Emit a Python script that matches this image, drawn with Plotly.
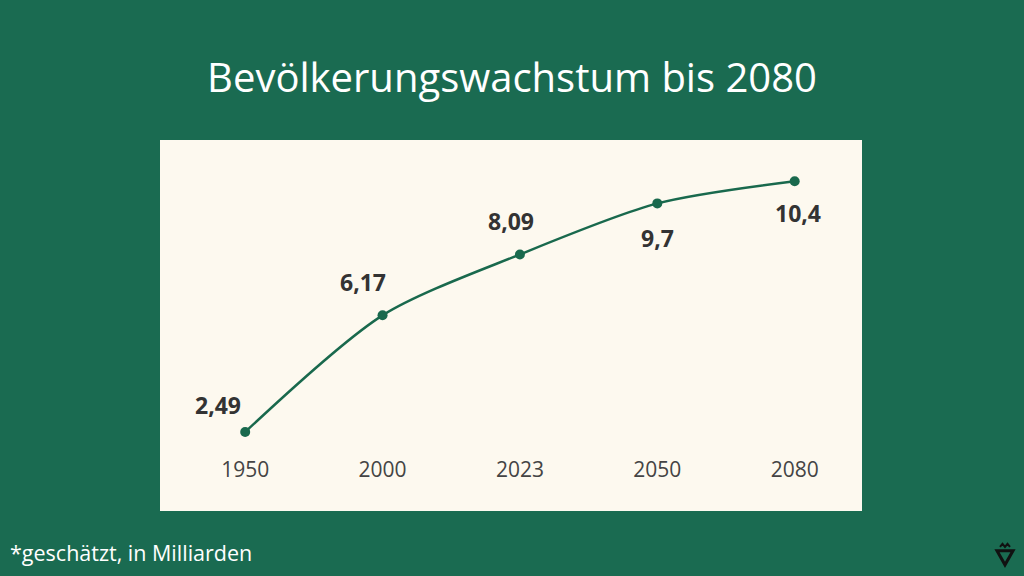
import plotly.graph_objects as go

years = ["1950", "2000", "2023", "2050", "2080"]
population = [2.49, 6.17, 8.09, 9.7, 10.4]
value_labels = ["2,49", "6,17", "8,09", "9,7", "10,4"]

GREEN = "#1a6b51"
LINE = "#19694d"
CREAM = "#fdf9ef"

fig = go.Figure()
fig.add_trace(
    go.Scatter(
        x=years, y=population, mode="lines+markers",
        line=dict(color=LINE, width=2.5, shape="spline", smoothing=0.8),
        marker=dict(color=LINE, size=10),
        hoverinfo="skip",
    )
)

# label offsets (px): first three above-left, last two below
shifts = [(-27, 27), (-20, 33), (-9, 33), (0, -35), (3, -32)]
for i, (val, lab, (dx, dy)) in enumerate(zip(population, value_labels, shifts)):
    fig.add_annotation(
        x=i, y=val, text=f"<b>{lab}</b>", showarrow=False,
        xshift=dx, yshift=dy,
        font=dict(family="Open Sans", size=23, color="#333333"),
    )

# cream panel extending below the plot area to hold the tick labels
fig.add_shape(type="rect", xref="paper", yref="paper", x0=0, x1=1, y0=-0.178, y1=1,
              fillcolor=CREAM, line=dict(width=0), layer="below")

# small logo bottom right
fig.add_shape(type="path", xref="paper", yref="paper", xsizemode="pixel", ysizemode="pixel",
              xanchor=1.2037, yanchor=-0.317,
              path="M -8,4 L 8,4 L 0,-10 Z", line=dict(color="#111111", width=3))
fig.add_shape(type="path", xref="paper", yref="paper", xsizemode="pixel", ysizemode="pixel",
              xanchor=1.2037, yanchor=-0.317,
              path="M -5,8 L -2.5,11 L 0,8 L 2.5,11 L 5,8", line=dict(color="#111111", width=2))

fig.update_layout(
    width=1024, height=576,
    margin=dict(l=160, r=162, t=140, b=121),
    paper_bgcolor=GREEN, plot_bgcolor=CREAM,
    showlegend=False,
    title=dict(text="Bevölkerungswachstum bis 2080", x=0.5, xanchor="center",
               y=0.865, yanchor="middle",
               font=dict(family="Open Sans", size=40, color="white")),
    xaxis=dict(type="category", range=[-0.62, 4.49], showgrid=False, zeroline=False,
               showline=False, ticks="", tickfont=dict(family="Open Sans", size=21, color="#444444"),
               fixedrange=True),
    yaxis=dict(range=[1.764, 11.70], visible=False, fixedrange=True),
)

fig.add_annotation(text="*geschätzt, in Milliarden", xref="paper", yref="paper",
                   x=-0.216, y=-0.308, xanchor="left", yanchor="middle", showarrow=False,
                   font=dict(family="Open Sans", size=21.5, color="white"))

fig.write_html("out.html", config={"displayModeBar": False},
               post_script="document.body.style.margin='0';")
